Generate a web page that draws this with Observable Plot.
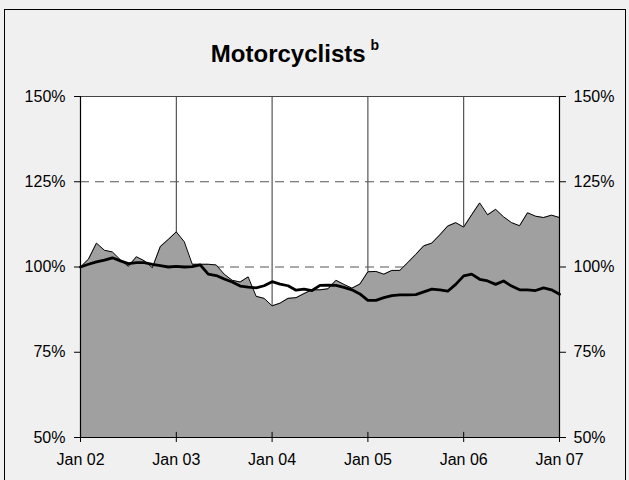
<!DOCTYPE html>
<html>
<head>
<meta charset="utf-8">
<script src="https://cdn.jsdelivr.net/npm/d3@7"></script>
<script src="https://cdn.jsdelivr.net/npm/@observablehq/plot@0.6"></script>
<style>
  body { margin: 0; background: #ffffff; }
  #wrap { position: relative; width: 629px; height: 480px; background: #f0f0f0; overflow: hidden;
          font-family: "Liberation Sans", Arial, sans-serif; }
  #frame { position: absolute; left: 4px; top: 9px; width: 622px; height: 480px;
           border: 1px solid #000; box-sizing: border-box; pointer-events: none; }
  #title { position: absolute; left: 295px; top: 34px; transform: translateX(-50%);
           font-weight: bold; font-size: 24px; line-height: 28px; white-space: nowrap; color: #000; }
  #title sup { font-size: 14px; position: relative; top: -3px; margin-left: 5px; }
  #chart { position: absolute; left: 0; top: 0; }
</style>
</head>
<body>
<div id="wrap">
  <div id="chart"></div>
  <div id="title">Motorcyclists<sup>b</sup></div>
  <div id="frame"></div>
</div>
<script>
// Tick labels (one every 12 months)
const tickLabels = ["Jan 02", "Jan 03", "Jan 04", "Jan 05", "Jan 06", "Jan 07"];
const yTicks = [50, 75, 100, 125, 150];
const refLines = [100, 125];

// Monthly values, Jan 02 .. Jan 07 (61 months), percent of Jan 02
const areaValues = [
  100.0, 102.3, 107.0, 104.9, 104.4, 102.1, 100.2, 103.0, 101.8, 99.8, 106.0, 108.1, 110.3,
  107.4, 100.8, 100.8, 100.8, 100.6, 97.9, 96.1, 95.6, 97.1, 91.4, 90.8, 88.6,
  89.4, 90.8, 91.0, 92.2, 93.3, 93.3, 93.6, 96.1, 94.9, 93.8, 95.0, 98.6,
  98.7, 97.9, 99.0, 99.0, 101.3, 103.7, 106.2, 107.0, 109.4, 112.0, 113.0, 111.7,
  115.3, 118.8, 115.3, 116.9, 114.7, 113.0, 112.1, 115.9, 114.9, 114.5, 115.2, 114.5
];
const lineValues = [
  100.0, 100.8, 101.5, 102.0, 102.7, 101.8, 101.0, 101.3, 101.3, 100.8, 100.4, 100.0, 100.2,
  100.0, 100.1, 100.6, 97.9, 97.5, 96.5, 95.6, 94.4, 94.1, 93.9, 94.5, 95.7,
  95.0, 94.5, 93.2, 93.5, 93.1, 94.6, 94.7, 94.6, 94.0, 93.3, 92.1, 90.2,
  90.2, 91.0, 91.6, 91.8, 91.8, 91.9, 92.7, 93.5, 93.3, 92.9, 94.9, 97.4,
  97.9, 96.4, 95.9, 94.9, 95.9, 94.4, 93.3, 93.3, 93.1, 93.9, 93.3, 92.0
];

const data = areaValues.map((a, i) => ({ i, area: a, line: lineValues[i] }));
const xTicks = tickLabels.map((_, k) => k * 12);

const chart = Plot.plot({
  width: 629,
  height: 480,
  marginLeft: 80,
  marginRight: 70,
  marginTop: 96,
  marginBottom: 43,
  style: { background: "transparent", fontFamily: "'Liberation Sans', Arial, sans-serif", fontSize: "16px", color: "#000" },
  x: { domain: [0, 60] },
  y: { domain: [50, 150] },
  marks: [
    Plot.frame({ fill: "white", stroke: "none" }),
    Plot.ruleX(xTicks, { stroke: "#333", strokeWidth: 1 }),
    Plot.ruleY(refLines, { stroke: "#555", strokeDasharray: "9,6", strokeWidth: 1 }),
    Plot.areaY(data, { x: "i", y1: 50, y2: "area", fill: "#a0a0a0" }),
    Plot.lineY(data, { x: "i", y: "area", stroke: "#000", strokeWidth: 1 }),
    Plot.lineY(data, { x: "i", y: "line", stroke: "#000", strokeWidth: 2.8, strokeLinejoin: "round" }),
    Plot.ruleY([150], { stroke: "#444", strokeWidth: 1 }),
    Plot.ruleX([0, 60], { stroke: "#000", strokeWidth: 1.2 }),
    Plot.ruleY([50], { stroke: "#000", strokeWidth: 1.2 }),
    Plot.ruleX(xTicks, { y1: 50, y2: 51.5, stroke: "#000" }),
    Plot.axisY({ anchor: "left", ticks: yTicks, tickSize: 6, tickPadding: 9, tickFormat: d => d + "%", label: null, fontSize: 16 }),
    Plot.axisY({ anchor: "right", ticks: yTicks, tickSize: 6, tickPadding: 8, tickFormat: d => d + "%", label: null, fontSize: 16 }),
    Plot.axisX({ anchor: "bottom", ticks: xTicks, tickSize: 5, tickPadding: 11, tickFormat: d => tickLabels[d / 12], label: null, fontSize: 16 })
  ]
});
document.getElementById("chart").appendChild(chart);
</script>
</body>
</html>
